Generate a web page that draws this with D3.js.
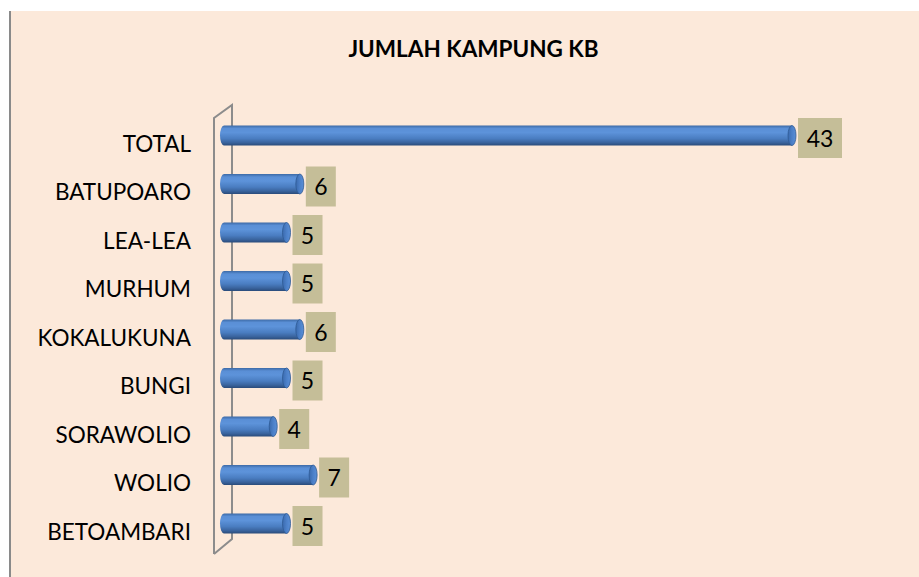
<!DOCTYPE html>
<html><head><meta charset="utf-8">
<script src="https://cdn.jsdelivr.net/npm/d3@7"></script>
<style>html,body{margin:0;padding:0;background:#fff;}svg{display:block;}</style>
</head><body>
<svg id="chart" width="919" height="577"></svg>
<script>
const title = "JUMLAH KAMPUNG KB";
const categories = ["TOTAL","BATUPOARO","LEA-LEA","MURHUM","KOKALUKUNA","BUNGI","SORAWOLIO","WOLIO","BETOAMBARI"];
const values = [43,6,5,5,6,5,4,7,5];

const svg = d3.select("#chart");
const W = 919, H = 577;
const font = "Lato, 'Open Sans', sans-serif";

svg.append("rect").attr("x",10).attr("y",11).attr("width",W-10).attr("height",H-11).attr("fill","#fce9da");
svg.append("line").attr("x1",10).attr("x2",10).attr("y1",11).attr("y2",H).attr("stroke","#8a8a8a").attr("stroke-width",2);

const x = d3.scaleLinear().domain([0,43]).range([224,796]);
const y = d3.scalePoint().domain(categories).range([135.5,523.5]);
const bh = 20;

// wall
const wall = svg.append("g").attr("fill","none").attr("stroke","#8c8c8c").attr("stroke-width",2);
wall.append("path").attr("d","M214,554 L214,118 L232,105 L232,539 L214,554");

const defs = svg.append("defs");
const g = defs.append("linearGradient").attr("id","cyl").attr("x1",0).attr("x2",0).attr("y1",0).attr("y2",1);
[[0,"#3d6aa6"],[0.15,"#5a8fd6"],[0.35,"#5d93da"],[0.65,"#4a7dc1"],[0.85,"#3a649e"],[1,"#2a4b7a"]].forEach(s=>g.append("stop").attr("offset",s[0]).attr("stop-color",s[1]));
const gc = defs.append("linearGradient").attr("id","cap").attr("x1",0).attr("x2",1).attr("y1",0).attr("y2",0);
[[0,"#3a6aae"],[0.5,"#4c80c8"],[1,"#5a8fd8"]].forEach(s=>gc.append("stop").attr("offset",s[0]).attr("stop-color",s[1]));

const rows = svg.selectAll("g.row").data(categories.map((c,i)=>({c,v:values[i]}))).enter().append("g");
const rx = 4;
rows.append("path").attr("fill","url(#cyl)").attr("d",d=>{
  const yc=y(d.c), x0=220+rx, x1=x(d.v)-rx;
  return `M${x0},${yc-bh/2} L${x1},${yc-bh/2} L${x1},${yc+bh/2} L${x0},${yc+bh/2} A${rx},${bh/2} 0 0 1 ${x0},${yc-bh/2} Z`;
});
rows.append("ellipse").attr("cx",d=>x(d.v)-rx).attr("cy",d=>y(d.c)).attr("rx",rx).attr("ry",bh/2)
  .attr("fill","url(#cap)").attr("stroke","#2f5a94").attr("stroke-width",0.8);

// value labels
rows.each(function(d){
  const gg = d3.select(this);
  const txt = String(d.v);
  const bw = txt.length>1?44:30;
  const bx = x(d.v)+2, cy = y(d.c)+2.5;
  gg.append("rect").attr("x",bx).attr("y",cy-20).attr("width",bw).attr("height",40).attr("fill","#c5be98");
  gg.append("text").attr("x",bx+bw/2).attr("y",cy+8.5).attr("text-anchor","middle")
    .attr("font-family",font).attr("font-size",23).attr("fill","#000").text(txt);
});

// category labels
svg.append("g").selectAll("text").data(categories).enter().append("text")
  .attr("x",191).attr("y",d=>y(d)+16).attr("text-anchor","end")
  .attr("font-family",font).attr("font-size",22.5).attr("fill","#000").text(d=>d);

svg.append("text").attr("x",473.5).attr("y",56.5).attr("text-anchor","middle")
  .attr("font-family",font).attr("font-weight","bold").attr("font-size",22.5).attr("fill","#000").text(title);
</script>
</body></html>
